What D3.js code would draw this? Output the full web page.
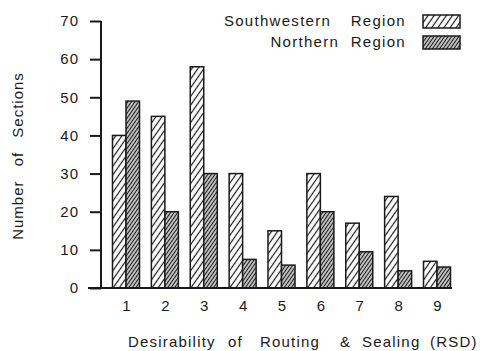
<!DOCTYPE html>
<html>
<head>
<meta charset="utf-8">
<script src="https://cdn.jsdelivr.net/npm/d3@7"></script>
<style>
  body { margin: 0; background: #fff; }
  svg text { font-family: "Liberation Sans", Arial, sans-serif; fill: #1a1a1a; }
</style>
</head>
<body>
<svg id="chart"></svg>
<script>
(function(){

// RSD classes along the x axis
var categories = ["1", "2", "3", "4", "5", "6", "7", "8", "9"];
// number of sections per class
var southwestern = [40, 45, 58, 30, 15, 30, 17, 24, 7];
var northern = [49, 20, 30, 7.5, 6, 20, 9.5, 4.5, 5.5];
var yTicks = [0, 10, 20, 30, 40, 50, 60, 70];
var seriesNames = ["Southwestern Region", "Northern Region"];

var W = 480, H = 351;
var margin = {top: 21, right: 28, bottom: 63, left: 101};
var width = W - margin.left - margin.right,
    height = H - margin.top - margin.bottom;

var svg = d3.select("#chart").attr("width", W).attr("height", H);

// hatch patterns
var defs = svg.append("defs");
function hatch(id, gap, sw) {
  var p = defs.append("pattern")
    .attr("id", id)
    .attr("patternUnits", "userSpaceOnUse")
    .attr("width", gap).attr("height", gap)
    .attr("patternTransform", "rotate(35)");
  p.append("rect").attr("width", gap).attr("height", gap).attr("fill", "#fff");
  p.append("line")
    .attr("x1", gap / 2).attr("y1", 0).attr("x2", gap / 2).attr("y2", gap)
    .attr("stroke", "#1a1a1a").attr("stroke-width", sw);
}
hatch("hatch-sw", 5, 1.2);
hatch("hatch-n", 2.9, 1.5);
var fills = ["url(#hatch-sw)", "url(#hatch-n)"];

var g = svg.append("g").attr("transform", "translate(" + margin.left + "," + margin.top + ")");

// x gives the centre of each pair of bars
var x = d3.scalePoint().domain(categories).range([25, 336]);
var y = d3.scaleLinear().domain([0, 70]).range([height, 0]);
var bw = 13.5;

// y axis
var yAxis = d3.axisLeft(y).tickValues(yTicks).tickSize(11).tickPadding(11);
var yas = g.append("g").attr("class", "y axis").call(yAxis);
yas.select(".domain").attr("d", "M0," + y(70) + "V" + height).attr("stroke", "#1a1a1a").attr("stroke-width", 2);
yas.selectAll(".tick line").attr("stroke", "#1a1a1a").attr("stroke-width", 2);
yas.selectAll(".tick text")
  .attr("font-size", 15).style("letter-spacing", "1px").attr("fill", "#222");

// bars
var groups = g.selectAll("g.cat")
  .data(categories)
  .enter().append("g")
  .attr("class", "cat")
  .attr("transform", function(d){ return "translate(" + x(d) + ",0)"; });

groups.append("rect")
  .attr("x", -bw)
  .attr("y", function(d, i){ return y(southwestern[i]); })
  .attr("width", bw)
  .attr("height", function(d, i){ return height - y(southwestern[i]); })
  .attr("fill", fills[0]).attr("stroke", "#1a1a1a").attr("stroke-width", 1.5);

groups.append("rect")
  .attr("x", 0)
  .attr("y", function(d, i){ return y(northern[i]); })
  .attr("width", bw)
  .attr("height", function(d, i){ return height - y(northern[i]); })
  .attr("fill", fills[1]).attr("stroke", "#1a1a1a").attr("stroke-width", 1.5);

// x axis
var xAxis = d3.axisBottom(x).tickSize(0).tickPadding(12);
var xas = g.append("g").attr("class", "x axis")
  .attr("transform", "translate(0," + height + ")")
  .call(xAxis);
xas.select(".domain").attr("d", "M-13,0H351").attr("stroke", "#1a1a1a").attr("stroke-width", 2);
xas.selectAll(".tick text").attr("font-size", 15).attr("fill", "#222");

// axis titles (old typesetting: words sit at uneven gaps)
var xTitle = [["Desirability", 128], ["of", 228], ["Routing", 260], ["&", 340], ["Sealing", 362], ["(RSD)", 430]];
svg.append("text")
  .attr("y", 347)
  .attr("font-size", 15)
  .style("letter-spacing", "1.2px")
  .selectAll("tspan")
  .data(xTitle)
  .enter().append("tspan")
  .attr("x", function(d){ return d[1]; })
  .text(function(d){ return d[0]; });

svg.append("text")
  .attr("transform", "translate(23,156) rotate(-90)")
  .attr("text-anchor", "middle")
  .attr("font-size", 15)
  .style("letter-spacing", "1px")
  .style("word-spacing", "9px")
  .text("Number of Sections");

// legend
var wordGap = [14, 6];
var legend = svg.selectAll("g.legend")
  .data(seriesNames)
  .enter().append("g")
  .attr("class", "legend")
  .attr("transform", function(d, i){ return "translate(0," + (21 + i * 21) + ")"; });
legend.append("text")
  .attr("x", 406).attr("dy", "0.35em")
  .attr("text-anchor", "end")
  .attr("font-size", 15)
  .style("letter-spacing", "1.3px")
  .style("word-spacing", function(d, i){ return wordGap[i] + "px"; })
  .text(function(d){ return d; });
legend.append("rect")
  .attr("x", 423).attr("y", -6)
  .attr("width", 37).attr("height", 13)
  .attr("fill", function(d, i){ return fills[i]; })
  .attr("stroke", "#1a1a1a").attr("stroke-width", 1.5);

})();
</script>
</body>
</html>
